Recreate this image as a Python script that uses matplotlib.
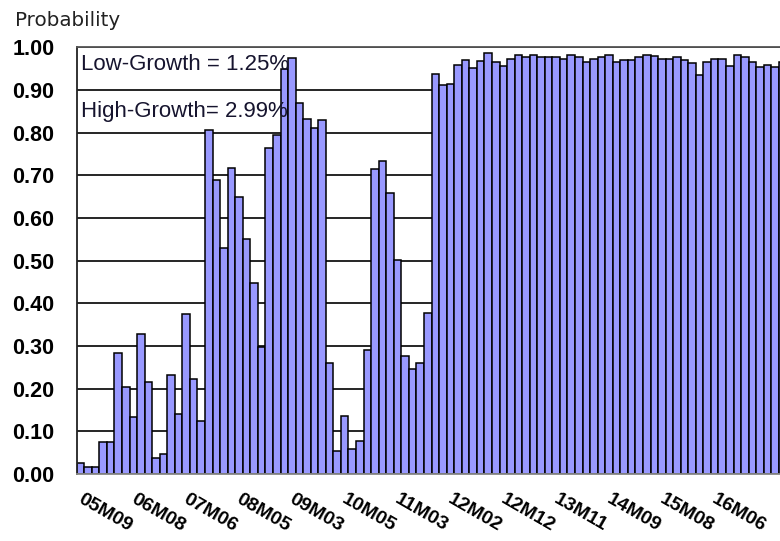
import matplotlib
matplotlib.use("Agg")
import matplotlib.pyplot as plt
import matplotlib.transforms as mtransforms
import numpy as np

# probability per observation, left to right
probability = [
    0.025, 0.016, 0.016, 0.074, 0.074, 0.283, 0.203, 0.133, 0.328, 0.215,
    0.037, 0.046, 0.232, 0.140, 0.374, 0.223, 0.124, 0.807, 0.689, 0.530,
    0.716, 0.649, 0.550, 0.448, 0.298, 0.763, 0.794, 0.950, 0.974, 0.870,
    0.833, 0.810, 0.829, 0.261, 0.054, 0.137, 0.058, 0.078, 0.290, 0.714,
    0.733, 0.659, 0.501, 0.277, 0.245, 0.261, 0.378, 0.937, 0.911, 0.915,
    0.958, 0.971, 0.952, 0.968, 0.987, 0.966, 0.956, 0.973, 0.981, 0.977,
    0.981, 0.977, 0.977, 0.977, 0.973, 0.981, 0.977, 0.966, 0.973, 0.977,
    0.983, 0.966, 0.970, 0.970, 0.977, 0.983, 0.979, 0.973, 0.973, 0.977,
    0.970, 0.962, 0.936, 0.966, 0.973, 0.973, 0.956, 0.983, 0.977, 0.966,
    0.954, 0.958, 0.954, 0.966,
]

# one label every 7 observations
period_labels = ["05M09", "06M08", "07M06", "08M05", "09M03", "10M05", "11M03",
                 "12M02", "12M12", "13M11", "14M09", "15M08", "16M06"]
label_step = 7

yticks = [0.0, 0.1, 0.2, 0.3, 0.4, 0.5, 0.6, 0.7, 0.8, 0.9, 1.0]

growth_notes = ["Low-Growth = 1.25%", "High-Growth= 2.99%"]

fig = plt.figure(figsize=(7.8, 5.41), dpi=100)
ax = fig.add_axes([0.0983, 0.1238, 0.9017, 0.7888])

x = np.arange(len(probability))
ax.bar(x + 0.5, probability, width=1.0, color="#9999FF",
       edgecolor="black", linewidth=1.1)

ax.set_xlim(0, 93.15)
ax.set_ylim(0, 1.0)
ax.set_axisbelow(True)
ax.yaxis.grid(True, color="black", linewidth=1.2)
ax.set_yticks(yticks)
ax.set_yticklabels([f"{v:.2f}" for v in yticks],
                   fontfamily="Liberation Sans", fontweight="bold", fontsize=15.5)
ax.tick_params(axis="y", length=0, pad=16)
ax.set_xticks([])

ax.spines["right"].set_visible(False)
ax.spines["left"].set_color("#222222")
ax.spines["left"].set_linewidth(1.3)
ax.spines["top"].set_color("#555555")
ax.spines["top"].set_linewidth(1.3)
ax.spines["bottom"].set_color("#888888")
ax.spines["bottom"].set_linewidth(1.3)

# slanted period labels below the bars
trans = mtransforms.blended_transform_factory(ax.transData, ax.transAxes)
for k, lab in enumerate(period_labels):
    ax.text(k * label_step + 0.9, -0.04, lab, transform=trans,
            rotation=-30, rotation_mode="anchor", ha="left", va="top",
            fontfamily="Liberation Sans", fontweight="bold", fontsize=14,
            clip_on=False)

# growth annotations in the top-left corner
for note, ypos in zip(growth_notes, [0.960, 0.850]):
    ax.text(0.55, ypos, note, transform=trans, ha="left", va="center",
            fontfamily="Liberation Sans", fontsize=16, color="#16142e")

fig.text(15 / 780, 1 - 20 / 541, "Probability", ha="left", va="center",
         fontfamily="DejaVu Sans", fontsize=14.3, color="#222222")

fig.savefig("out.png", dpi=100)
